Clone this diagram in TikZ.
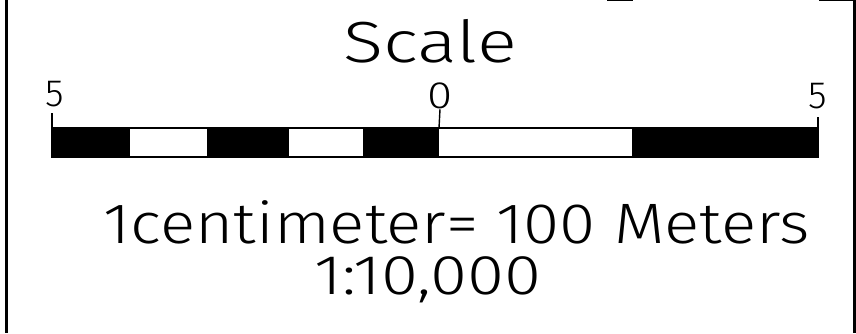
\documentclass[tikz,border=0pt]{standalone}
\usepackage{fontspec}
\setmainfont{Fira Sans}[UprightFont=* Light]
\begin{document}
\begin{tikzpicture}[x=1pt,y=-1pt,
  lbl/.style={inner sep=0pt,anchor=center},
  blk/.style={fill=black,draw=none},
  outline/.style={draw=black,line width=1.4pt},
  tickline/.style={draw=black,line width=1.4pt},
  border/.style={draw=black,line width=2.6pt}]
\useasboundingbox (0,0) rectangle (856,333);
% frame
\draw[border] (6.5,0) -- (6.5,333);
\draw[border] (854.5,0) -- (854.5,333);
\draw[line width=1.5pt] (607,0.7) -- (633,0.7);
\draw[line width=1.5pt] (819,0.7) -- (856,0.7);
% title
\node[lbl,font=\fontsize{58}{60}\selectfont] (title) at (430,41) {\scalebox{1.28}[1]{Scale}};
% bar
\coordinate (L) at (52,128);
\coordinate (R) at (818,157);
\fill[blk] (52,128) rectangle (129,157);
\fill[blk] (207,128) rectangle (288,157);
\fill[blk] (363,128) rectangle (439,157);
\fill[blk] (632,128) rectangle (818,157);
\draw[outline] (L) rectangle (R);
\draw[line width=1pt] (129,128) -- (129,157) (207,128) -- (207,157) (288,128) -- (288,157) (363,128) -- (363,157) (632,128) -- (632,157);
% ticks and labels
\node[lbl,font=\fontsize{38}{40}\selectfont] (l5) at (55,94) {5};
\node[lbl,font=\fontsize{38}{40}\selectfont] (r5) at (818,96) {5};
\node[lbl,font=\fontsize{38}{40}\selectfont] (z0) at (440,96) {\scalebox{1.2}[1]{0}};
\draw[tickline] (52,128) -- (52,113);
\draw[tickline] (818,128) -- (818,117);
\draw[tickline] (439,128) -- (z0.south);
% bottom texts
\node[lbl,font=\fontsize{57}{60}\selectfont] (eq) at (457,222) {\scalebox{1.15}[1]{1centimeter= 100 Meters}};
\node[lbl,font=\fontsize{56}{60}\selectfont] (ratio) at (428,280) {\scalebox{1.2}[1]{1:10,000}};
\end{tikzpicture}
\end{document}
